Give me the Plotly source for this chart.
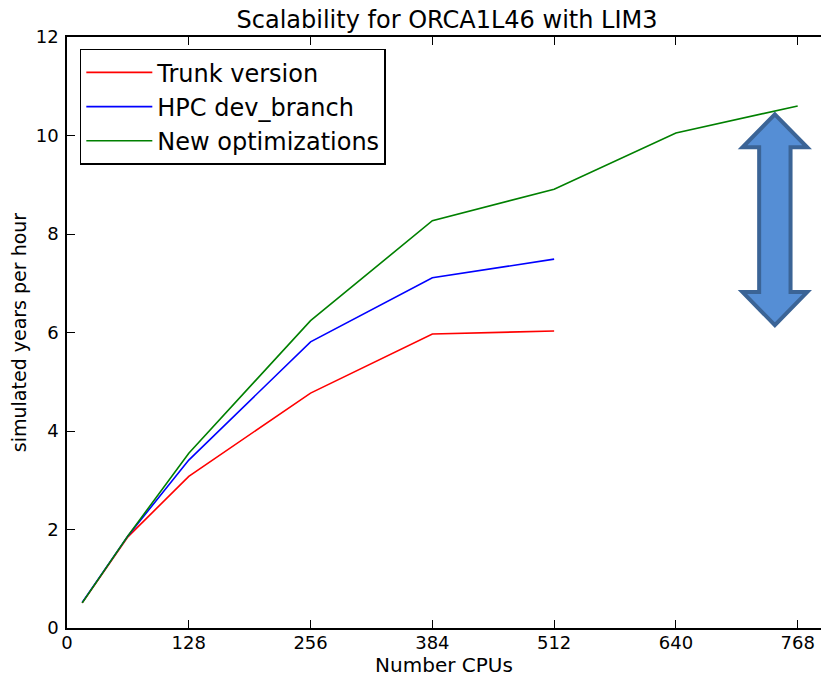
import plotly.graph_objects as go

# ---- data ----
cpus = [16, 64, 128, 256, 384, 512]
cpus_new = [16, 64, 128, 256, 384, 512, 640, 768]
trunk = [0.51, 1.85, 3.08, 4.77, 5.97, 6.03]
hpc_dev = [0.52, 1.87, 3.41, 5.81, 7.11, 7.49]
new_opt = [0.51, 1.87, 3.55, 6.24, 8.27, 8.91, 10.05, 10.60]

x_ticks = [0, 128, 256, 384, 512, 640, 768]
y_ticks = [0, 2, 4, 6, 8, 10, 12]

FONT = "DejaVu Sans"

fig = go.Figure()
fig.add_trace(go.Scatter(x=cpus, y=trunk, mode="lines", name="Trunk version",
                         line=dict(color="#ff0000", width=1.6)))
fig.add_trace(go.Scatter(x=cpus, y=hpc_dev, mode="lines", name="HPC dev_branch",
                         line=dict(color="#0000ff", width=1.6)))
fig.add_trace(go.Scatter(x=cpus_new, y=new_opt, mode="lines", name="New optimizations",
                         line=dict(color="#008000", width=1.6)))

# double-headed arrow (decoration), in data coordinates
ax_c, head_half, shaft_half = 744, 34, 16.5
tip_top, base_top, base_bot, tip_bot = 10.43, 9.76, 6.82, 6.15
path = (f"M {ax_c} {tip_top} L {ax_c+head_half} {base_top} L {ax_c+shaft_half} {base_top} "
        f"L {ax_c+shaft_half} {base_bot} L {ax_c+head_half} {base_bot} L {ax_c} {tip_bot} "
        f"L {ax_c-head_half} {base_bot} L {ax_c-shaft_half} {base_bot} L {ax_c-shaft_half} {base_top} "
        f"L {ax_c-head_half} {base_top} Z")
fig.add_shape(type="path", path=path, xref="x", yref="y",
              fillcolor="#558ed5", line=dict(color="#3b6496", width=4))

W, H = 821, 678
fig.update_layout(
    width=W, height=H,
    margin=dict(l=67, r=0, t=37, b=50, autoexpand=False),
    paper_bgcolor="white", plot_bgcolor="white",
    font=dict(family=FONT, color="black", size=18),
    title=dict(text="Scalability for ORCA1L46 with LIM3", font=dict(size=24, family=FONT),
               x=0.504, xref="paper", xanchor="center", y=1 - 20 / H, yref="container",
               yanchor="middle"),
    showlegend=True,
    legend=dict(x=0.017, y=0.98, xanchor="left", yanchor="top",
                bgcolor="white", bordercolor="black", borderwidth=1.5,
                font=dict(size=24, family=FONT), tracegroupgap=0,
                itemwidth=66),
    xaxis=dict(range=[0, 792.5], tickvals=x_ticks, ticktext=[str(v) for v in x_ticks],
               automargin=False,
               showgrid=False, zeroline=False, showline=True, linecolor="black", linewidth=1.5,
               mirror="ticks", ticks="inside", ticklen=8, tickwidth=1, tickcolor="black",
               tickfont=dict(size=18), ticklabelstandoff=-2,
               title=dict(text="Number CPUs", font=dict(size=20), standoff=4)),
    yaxis=dict(range=[0, 12], tickvals=y_ticks, ticktext=[str(v) for v in y_ticks],
               automargin=False,
               showgrid=False, zeroline=False, showline=True, linecolor="black", linewidth=1.5,
               mirror=False, ticks="inside", ticklen=8, tickwidth=1, tickcolor="black",
               tickfont=dict(size=18), ticklabelstandoff=3,
               title=dict(text="simulated years per hour", font=dict(size=19), standoff=4)),
)

fig.write_html(
    "out.html",
    config={"displayModeBar": False},
    post_script="document.body.style.margin='0';document.body.style.overflow='hidden';",
)
